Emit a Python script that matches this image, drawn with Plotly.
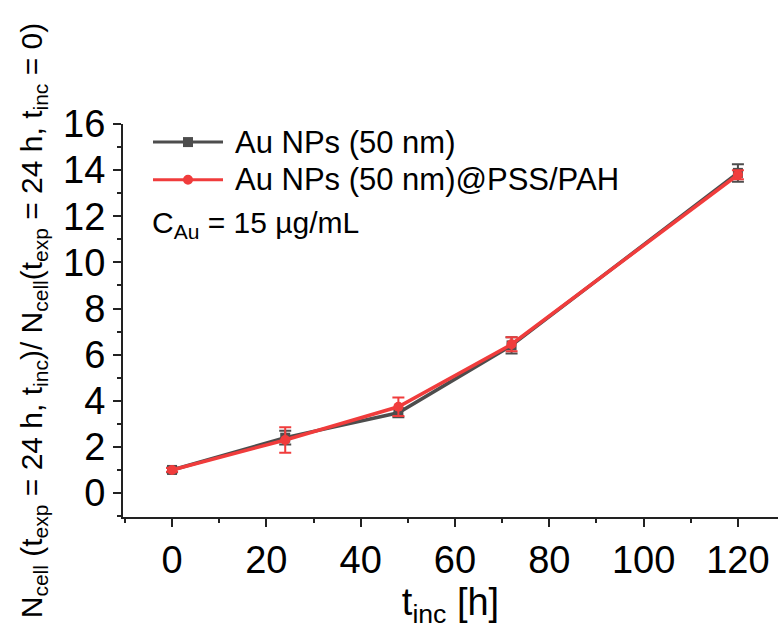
import plotly.graph_objects as go

# Incubation time (h) and normalized cell number
t_inc = [0, 24, 48, 72, 120]

au_np = [1.0, 2.4, 3.48, 6.4, 13.88]
au_np_err = [0.1, 0.3, 0.2, 0.35, 0.38]

au_np_pss = [1.0, 2.3, 3.74, 6.45, 13.8]
au_np_pss_err = [0.08, 0.55, 0.4, 0.3, 0.2]

x_ticks = [0, 20, 40, 60, 80, 100, 120]
y_ticks = [0, 2, 4, 6, 8, 10, 12, 14, 16]

GREY = "#4d4d4d"
RED = "#f03c3c"
FONT = "Liberation Sans, Arial, sans-serif"

fig = go.Figure()

fig.add_trace(go.Scatter(
    x=t_inc, y=au_np, mode="lines+markers", name="Au NPs (50 nm)",
    line=dict(color=GREY, width=3.5),
    marker=dict(symbol="square", size=10, color=GREY),
    error_y=dict(type="data", array=au_np_err, color=GREY, thickness=2, width=6),
    showlegend=False,
))
fig.add_trace(go.Scatter(
    x=t_inc, y=au_np_pss, mode="lines+markers", name="Au NPs (50 nm)@PSS/PAH",
    line=dict(color=RED, width=3.5),
    marker=dict(symbol="circle", size=10, color=RED),
    error_y=dict(type="data", array=au_np_pss_err, color=RED, thickness=2, width=6),
    showlegend=False,
))

# Hand-built legend in paper coordinates
legend_rows = [
    ("Au NPs (50 nm)", GREY, "square", 0.954),
    ("Au NPs (50 nm)@PSS/PAH", RED, "circle", 0.858),
]
shapes = []
annotations = []
W, H = 655, 393
x0, x1 = 30 / W, 100 / W
xm = (x0 + x1) / 2
for label, col, sym, yy in legend_rows:
    shapes.append(dict(type="line", xref="paper", yref="paper", x0=x0, x1=x1, y0=yy, y1=yy,
                       line=dict(color=col, width=3)))
    dx, dy = 5 / W, 5 / H
    shapes.append(dict(type="rect" if sym == "square" else "circle", xref="paper", yref="paper",
                       x0=xm - dx, x1=xm + dx, y0=yy - dy, y1=yy + dy,
                       fillcolor=col, line=dict(color=col, width=0)))
    annotations.append(dict(text=label, xref="paper", yref="paper", x=110 / W, y=yy,
                            xanchor="left", yanchor="middle", showarrow=False,
                            font=dict(size=31, color="black", family=FONT)))
annotations.append(dict(text="C<sub>Au</sub> = 15 µg/mL", xref="paper", yref="paper",
                        x=27 / W, y=0.745, xanchor="left", yanchor="middle", showarrow=False,
                        font=dict(size=30, color="black", family=FONT)))

axis_common = dict(
    showline=True, linecolor="#222", linewidth=2, mirror=False,
    ticks="outside", ticklen=8, tickwidth=2, tickcolor="#222",
    showgrid=False, zeroline=False,
    tickfont=dict(size=38, color="black", family=FONT),
)

fig.update_layout(
    width=778, height=630,
    margin=dict(l=123, r=0, t=124, b=113),
    paper_bgcolor="white", plot_bgcolor="white",
    xaxis=dict(range=[-10.4, 128.5], tickvals=x_ticks,
               minor=dict(ticks="outside", ticklen=4, tickwidth=2, tickcolor="#222", dtick=10, tick0=0),
               title=dict(text="t<sub>inc</sub> [h]", font=dict(size=38, color="black", family=FONT), standoff=6),
               **axis_common),
    yaxis=dict(range=[-1.04, 16], tickvals=y_ticks,
               minor=dict(ticks="outside", ticklen=4, tickwidth=2, tickcolor="#222", dtick=1, tick0=0),
               title=dict(text="N<sub>cell</sub> (t<sub>exp</sub> = 24 h, t<sub>inc</sub>)/ N<sub>cell</sub>(t<sub>exp</sub> = 24 h, t<sub>inc</sub> = 0)",
                          font=dict(size=30, color="black", family=FONT), standoff=12),
               **axis_common),
    shapes=shapes,
    annotations=annotations,
)

fig.write_html("out.html")
